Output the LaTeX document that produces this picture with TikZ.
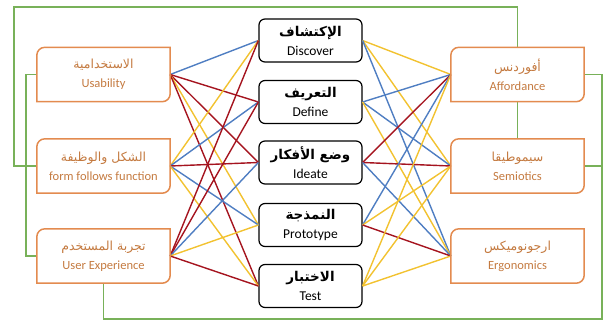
\documentclass[tikz,border=0pt]{standalone}
\usepackage{fontspec}
\setmainfont{Carlito}
\newfontfamily\arabicfont[Script=Arabic]{DejaVu Sans}
\TeXXeTstate=1
\newcommand\ar[1]{{\arabicfont\beginR #1\endR}}
\definecolor{cblue}{HTML}{4F7EC2}
\definecolor{cred}{HTML}{A5141F}
\definecolor{cyel}{HTML}{F2C230}
\definecolor{cgreen}{HTML}{78B159}
\definecolor{corange}{HTML}{E38B4F}
\definecolor{ctext}{HTML}{C47A40}
\newcommand\obox[1]{\draw[corange, line width=1.5pt] (#1.south west) -- ([yshift=-8pt]#1.north west) arc[start angle=180,end angle=90,radius=8pt] -- (#1.north east) -- ([yshift=8pt]#1.south east) arc[start angle=0,end angle=-90,radius=8pt] -- cycle;}
\begin{document}
\begin{tikzpicture}[x=1pt,y=-1pt,
 sidebox/.style={minimum width=133pt, minimum height=54pt, inner sep=0pt, align=center, text=ctext, font=\fontsize{12.5}{19}\selectfont},
 midbox/.style={draw=black, line width=1.2pt, rounded corners=6pt, fill=white, minimum width=103pt, minimum height=43pt, inner sep=0pt, align=center, font=\fontsize{13.5}{19}\selectfont},
 link/.style={line width=1.4pt},
 glink/.style={draw=cgreen, line width=1.6pt}]
\useasboundingbox (0,0) rectangle (611,322);
% side boxes
\node[sidebox] (u) at (103.5,74.5) {\ar{الاستخدامية}\\Usability};
\node[sidebox] (f) at (103.5,166) {\ar{الشكل والوظيفة}\\form follows function};
\node[sidebox] (x) at (103.5,256) {\ar{تجربة المستخدم}\\User Experience};
\node[sidebox] (a) at (517.5,74.5) {\ar{أفوردنس}\\Affordance};
\node[sidebox] (s) at (517.5,166) {\ar{سيموطيقا}\\Semiotics};
\node[sidebox] (e) at (517.5,256) {\ar{ارجونوميكس}\\Ergonomics};
% center boxes
\node[midbox] (disc) at (310.5,40.5) {\ar{\bfseries الإكتشاف}\\Discover};
\node[midbox] (defi) at (310.5,102) {\ar{\bfseries التعريف}\\Define};
\node[midbox] (idea) at (310.5,162.5) {\ar{\bfseries وضع الأفكار}\\Ideate};
\node[midbox] (prot) at (310.5,225) {\ar{\bfseries النمذجة}\\Prototype};
\node[midbox] (test) at (310.5,286) {\ar{\bfseries الاختبار}\\Test};
% links
\foreach \p/\q/\c in {u/disc/cblue,u/defi/cred,u/idea/cred,u/prot/cyel,u/test/cred,
  f/disc/cyel,f/defi/cblue,f/idea/cred,f/prot/cblue,f/test/cyel,
  x/disc/cred,x/defi/cred,x/idea/cblue,x/prot/cyel,x/test/cred}{
  \draw[link,\c] (\p.east) -- (\q.west);}
\foreach \p/\q/\c in {disc/a/cyel,disc/s/cyel,disc/e/cblue,
  defi/a/cblue,defi/s/cblue,defi/e/cyel,
  idea/a/cred,idea/s/cred,idea/e/cblue,
  prot/a/cblue,prot/s/cyel,prot/e/cred,
  test/a/cyel,test/s/cyel,test/e/cyel}{
  \draw[link,\c] (\p.east) -- (\q.west);}
% green frame
\draw[glink] (f.west) -| (14,7) -| (a.north);
\draw[glink] (u.west) -- ++(-11,0) |- (x.west);
\draw[glink] (x.south) |- (602,319) |- (a.east);
\draw[glink] (s.east) -- ++(18,0);
\draw[glink] (a.south) -- (s.north);
% orange borders
\obox{u}\obox{f}\obox{x}\obox{a}\obox{s}\obox{e}
\end{tikzpicture}
\end{document}
